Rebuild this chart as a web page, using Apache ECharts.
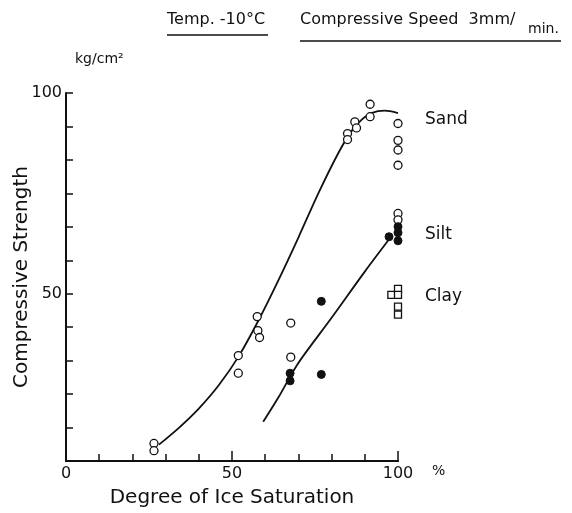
<!DOCTYPE html>
<html>
<head>
<meta charset="utf-8">
<script src="https://cdn.jsdelivr.net/npm/echarts@6/dist/echarts.min.js"></script>
<style>
  html, body { margin: 0; padding: 0; background: #fff; }
  #chart { width: 572px; height: 513px; }
</style>
</head>
<body>
<div id="chart"></div>
<script>
// open circles (sand)
const sandX = [26.5, 26.5, 51.9, 51.9, 57.6, 57.8, 58.3, 67.7, 67.7, 84.8, 84.8, 87.0, 87.5, 91.6, 91.6, 100, 100, 100, 100, 100, 100];
const sandY = [12.7, 10.9, 34.6, 30.2, 44.3, 40.8, 39.1, 42.7, 34.2, 89.9, 88.4, 92.8, 91.3, 97.2, 94.1, 92.4, 88.2, 85.8, 82.0, 70.0, 68.4];
// filled circles (silt)
const siltX = [67.5, 67.5, 76.9, 76.9, 97.3, 100, 100, 100];
const siltY = [30.2, 28.3, 48.1, 29.9, 64.2, 66.7, 65.2, 63.2];
// squares (clay)
const clayX = [98.0, 100, 100, 100, 100];
const clayY = [49.7, 51.2, 49.7, 46.8, 44.8];
// fitted curves
const sandCurveX = [28, 34, 40, 46, 52, 58, 64, 70, 76, 82, 86, 89, 92, 96, 100];
const sandCurveY = [12.4, 16.6, 21.4, 27.2, 34.4, 43.4, 53.4, 64, 75, 85, 90.5, 93.3, 95, 95.6, 95];
const siltCurveX = [59.4, 64, 69.7, 80, 90, 98];
const siltCurveY = [18.1, 24.2, 32.4, 44, 55.5, 64.3];

const xTickLabels = ['0', '50', '100'];
const yTickLabels = ['50', '100'];

const zip = (xs, ys) => xs.map((x, i) => [x, ys[i]]);
const FONT = 'DejaVu Sans';
const black = '#111';

const chart = echarts.init(document.getElementById('chart'));

const yStep = 25 / 3;
const option = {
  backgroundColor: '#fff',
  animation: false,
  grid: { left: 66, right: 174, top: 93, bottom: 52, containLabel: false, outerBoundsMode: 'none' },
  xAxis: [{
    type: 'value', min: 0, max: 100, interval: 10, position: 'bottom',
    axisLine: { show: true, lineStyle: { color: black, width: 2 } },
    axisTick: { show: true, inside: true, length: 7, lineStyle: { color: black, width: 1.5 } },
    axisLabel: { show: false },
    splitLine: { show: false },
    name: 'Degree of Ice Saturation',
    nameLocation: 'middle',
    nameGap: 27,
    nameMoveOverlap: false,
    nameTextStyle: { fontFamily: FONT, fontSize: 20, color: black }
  }, {
    type: 'value', min: 0, max: 100, interval: 50, position: 'bottom', offset: 0,
    axisLine: { show: true, lineStyle: { color: black, width: 2 } },
    axisTick: { show: true, inside: true, length: 10, lineStyle: { color: black, width: 1.5 } },
    axisLabel: {
      show: true, margin: 5, fontFamily: FONT, fontSize: 16, color: black,
      formatter: v => xTickLabels.includes(String(Math.round(v))) ? String(Math.round(v)) : ''
    },
    splitLine: { show: false }
  }],
  yAxis: {
    type: 'value', min: yStep, max: 100, interval: yStep,
    axisLine: { show: true, lineStyle: { color: black, width: 2 } },
    axisTick: { show: true, inside: true, length: 7, lineStyle: { color: black, width: 1.5 } },
    axisLabel: {
      show: true, margin: 4, fontFamily: FONT, fontSize: 16, color: black,
      formatter: v => {
        const r = Math.round(v);
        return Math.abs(v - r) < 0.01 && yTickLabels.includes(String(r)) ? String(r) : '';
      }
    },
    splitLine: { show: false },
    name: 'Compressive Strength',
    nameLocation: 'middle',
    nameGap: 34,
    nameMoveOverlap: false,
    nameRotate: 90,
    nameTextStyle: { fontFamily: FONT, fontSize: 20, color: black }
  },
  series: [
    {
      type: 'line', data: zip(sandCurveX, sandCurveY), smooth: 0.3,
      showSymbol: false, lineStyle: { color: black, width: 1.8 }, z: 1
    },
    {
      type: 'line', data: zip(siltCurveX, siltCurveY), smooth: 0.3,
      showSymbol: false, lineStyle: { color: black, width: 1.8 }, z: 1
    },
    {
      name: 'Sand', type: 'scatter', data: zip(sandX, sandY), symbol: 'circle', symbolSize: 8,
      itemStyle: { color: '#fff', borderColor: black, borderWidth: 1.3, opacity: 1 }, z: 3
    },
    {
      name: 'Silt', type: 'scatter', data: zip(siltX, siltY), symbol: 'circle', symbolSize: 8,
      itemStyle: { color: black, borderColor: black, borderWidth: 1, opacity: 1 }, z: 4
    },
    {
      name: 'Clay', type: 'scatter', data: zip(clayX, clayY), symbol: 'rect', symbolSize: 7,
      itemStyle: { color: '#fff', borderColor: black, borderWidth: 1.3, opacity: 1 }, z: 3
    }
  ],
  graphic: [
    { type: 'text', left: 167, top: 12, style: { text: 'Temp. -10°C', font: '16px "DejaVu Sans"', fill: black } },
    { type: 'line', shape: { x1: 167, y1: 35, x2: 268, y2: 35 }, style: { stroke: black, lineWidth: 1.5 } },
    { type: 'text', left: 300, top: 12, style: { text: 'Compressive Speed  3mm/', font: '16px "DejaVu Sans"', fill: black } },
    { type: 'text', left: 528, top: 22, style: { text: 'min.', font: '14px "DejaVu Sans"', fill: black } },
    { type: 'line', shape: { x1: 300, y1: 41, x2: 561, y2: 41 }, style: { stroke: black, lineWidth: 1.5 } },
    { type: 'text', left: 75, top: 52, style: { text: 'kg/cm²', font: '14px "DejaVu Sans"', fill: black } },
    { type: 'text', left: 432, top: 464, style: { text: '%', font: '14px "DejaVu Sans"', fill: black } },
    { type: 'text', left: 425, top: 111, style: { text: 'Sand', font: '17px "DejaVu Sans"', fill: black } },
    { type: 'text', left: 425, top: 226, style: { text: 'Silt', font: '17px "DejaVu Sans"', fill: black } },
    { type: 'text', left: 425, top: 288, style: { text: 'Clay', font: '17px "DejaVu Sans"', fill: black } }
  ]
};

chart.setOption(option);
</script>
</body>
</html>
